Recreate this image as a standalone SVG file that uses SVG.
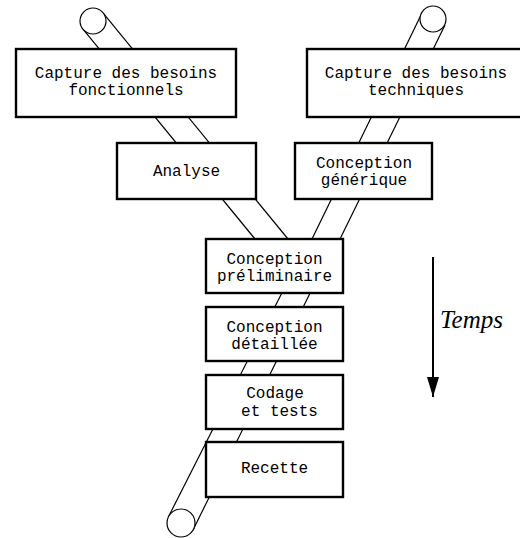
<svg xmlns="http://www.w3.org/2000/svg" width="520" height="538" viewBox="0 0 520 538">
<style>
.box{fill:#fff;stroke:#000;stroke-width:2.4}
.belt{stroke:#000;stroke-width:1.2;fill:none}
.pul{fill:#fff;stroke:#000;stroke-width:1.2}
.t{font-family:"Liberation Mono",monospace;font-size:16px;fill:#000;text-anchor:middle}
.tm{font-family:"Liberation Serif",serif;font-style:italic;font-size:25px;fill:#000}
</style>
<defs>
<marker id="ah" markerWidth="20" markerHeight="12" refX="20" refY="6" orient="auto" markerUnits="userSpaceOnUse" viewBox="0 0 20 12">
<path d="M0,0 L20,6 L0,12 Z" fill="#000"/>
</marker>
</defs>
<g id="connectors">
<line class="belt" x1="83" y1="29.2" x2="255" y2="239"/>
<line class="belt" x1="103" y1="12.8" x2="288" y2="239"/>
<circle class="pul" cx="93" cy="21" r="13"/>
<line class="belt" x1="422" y1="13" x2="312" y2="239"/>
<line class="belt" x1="445" y1="25" x2="340" y2="239"/>
<circle class="pul" cx="433" cy="19" r="13"/>
<line class="belt" x1="292" y1="273" x2="168.5" y2="516.7"/>
<line class="belt" x1="320" y1="273" x2="193.5" y2="529"/>
<circle class="pul" cx="181" cy="523" r="14"/>
<line stroke="#000" stroke-width="2" x1="433" y1="257" x2="433" y2="397" marker-end="url(#ah)"/>
</g>
<g id="n1"><rect class="box" x="16" y="49" width="220" height="68"/>
<text class="t" x="126" y="78">Capture des besoins</text><text class="t" x="126" y="95">fonctionnels</text></g>
<g id="n2"><rect class="box" x="307" y="49" width="220" height="68"/>
<text class="t" x="416" y="78">Capture des besoins</text><text class="t" x="416" y="95">techniques</text></g>
<g id="n3"><rect class="box" x="117" y="143" width="139" height="56"/>
<text class="t" x="186.5" y="176">Analyse</text></g>
<g id="n4"><rect class="box" x="295" y="143" width="137" height="56"/>
<text class="t" x="364" y="168">Conception</text><text class="t" x="364" y="185">générique</text></g>
<g id="n5"><rect class="box" x="206" y="239" width="137" height="54"/>
<text class="t" x="274.5" y="264">Conception</text><text class="t" x="274.5" y="281">préliminaire</text></g>
<g id="n6"><rect class="box" x="206" y="307" width="137" height="54"/>
<text class="t" x="274.5" y="332">Conception</text><text class="t" x="274.5" y="349">détaillée</text></g>
<g id="n7"><rect class="box" x="206" y="375" width="137" height="54"/>
<text class="t" x="275" y="398">Codage</text><text class="t" x="279.5" y="416">et tests</text></g>
<g id="n8"><rect class="box" x="206" y="442" width="137" height="55"/>
<text class="t" x="274.5" y="473">Recette</text></g>
<text class="tm" x="440" y="328">Temps</text>
</svg>
